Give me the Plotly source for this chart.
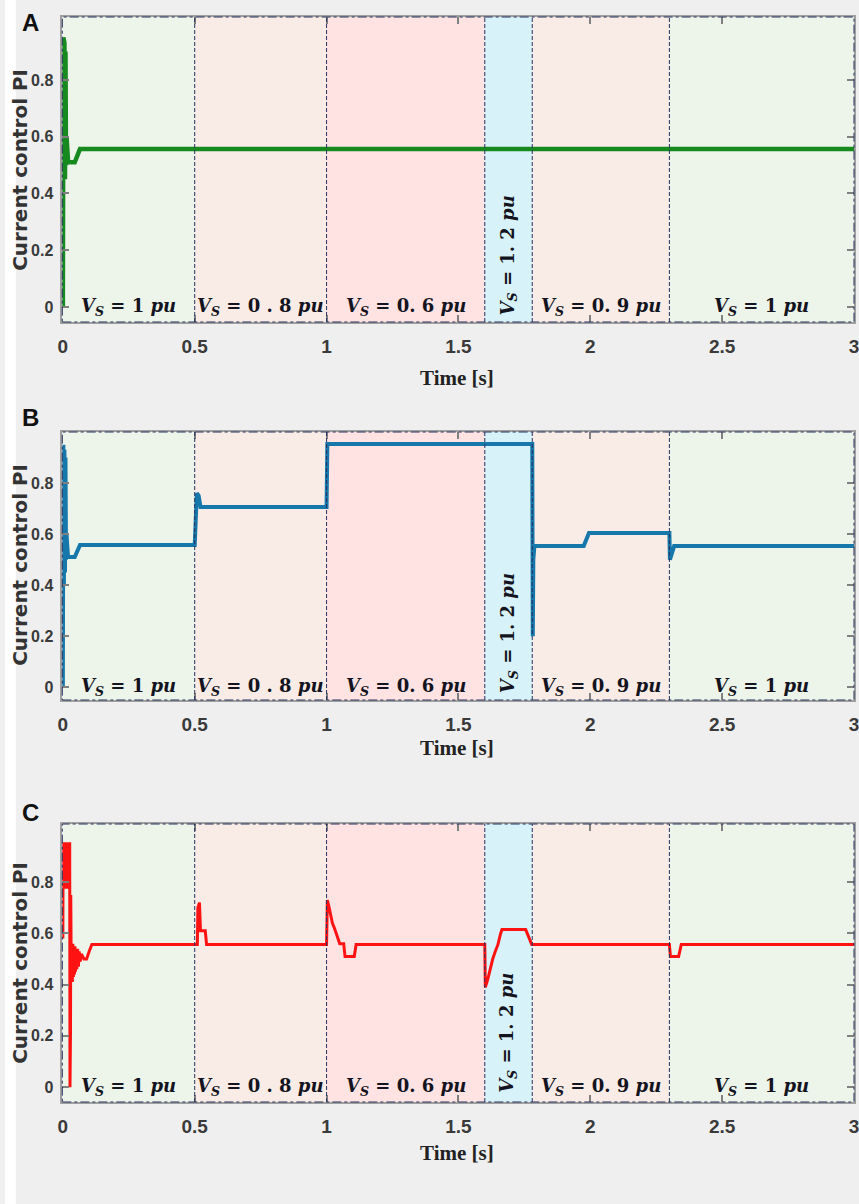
import plotly.graph_objects as go

W, H = 859, 1204

# ---------------- data ----------------
TIME_A = [0, 0.002, 0.004, 0.006, 0.008, 0.010, 0.012, 0.014, 0.017, 0.020, 0.045, 0.055, 0.065, 3.0]
PI_A = [0, 0.95, 0.40, 0.93, 0.45, 0.90, 0.50, 0.60, 0.55, 0.51, 0.51, 0.53, 0.557, 0.557]

TIME_B = [0, 0.002, 0.004, 0.006, 0.008, 0.010, 0.012, 0.014, 0.017, 0.020, 0.045, 0.055, 0.065,
          0.500, 0.503, 0.508, 0.515, 0.522, 1.000, 1.003, 1.780, 1.782, 1.784, 1.788,
          1.975, 1.995, 2.300, 2.302, 2.308, 2.318, 3.0]
PI_B = [0, 0.95, 0.40, 0.93, 0.45, 0.90, 0.50, 0.60, 0.55, 0.51, 0.51, 0.53, 0.557,
        0.557, 0.70, 0.76, 0.75, 0.706, 0.706, 0.953, 0.953, 0.20, 0.50, 0.553,
        0.553, 0.604, 0.604, 0.50, 0.52, 0.553, 0.553]

TIME_C = [0, 0.001, 0.005, 0.006, 0.009, 0.010, 0.014, 0.015, 0.019, 0.020, 0.026, 0.027, 0.029, 0.030,
          0.032, 0.034, 0.036, 0.038, 0.040, 0.042, 0.044, 0.046, 0.048, 0.050, 0.053, 0.056, 0.059,
          0.062, 0.066, 0.070, 0.080, 0.090, 0.100, 0.110,
          0.510, 0.512, 0.518, 0.522, 0.540, 0.545,
          1.000, 1.003, 1.010, 1.016, 1.022, 1.030, 1.040, 1.050, 1.065, 1.070, 1.105, 1.112,
          1.600, 1.602, 1.611, 1.622, 1.630, 1.640, 1.650, 1.660, 1.665, 1.755, 1.778,
          2.300, 2.304, 2.335, 2.345, 3.0]
PI_C = [0.58, 0.95, 0.95, 0.78, 0.78, 0.95, 0.95, 0.78, 0.78, 0.95, 0.95, 0.0, 0.22, 0.75,
        0.42, 0.55, 0.41, 0.56, 0.43, 0.55, 0.44, 0.55, 0.45, 0.54, 0.46, 0.54, 0.47,
        0.53, 0.49, 0.52, 0.50, 0.50, 0.53, 0.557,
        0.557, 0.70, 0.72, 0.61, 0.61, 0.557,
        0.557, 0.73, 0.70, 0.67, 0.64, 0.62, 0.585, 0.56, 0.56, 0.51, 0.51, 0.557,
        0.557, 0.39, 0.42, 0.47, 0.50, 0.53, 0.557, 0.60, 0.615, 0.615, 0.557,
        0.557, 0.51, 0.51, 0.557, 0.557]

REGION_START = [0.0, 0.5, 1.0, 1.6, 1.78, 2.3]
REGION_END = [0.5, 1.0, 1.6, 1.78, 2.3, 3.01]
REGION_LABEL = ["1", "0 . 8", "0. 6", "1. 2", "0. 9", "1"]
REGION_COLOR = ["#edf4ea", "#f9ece7", "#ffe3e3", "#d8f2f9", "#f9ece7", "#edf4ea"]

X_TICKS = [0, 0.5, 1, 1.5, 2, 2.5, 3]
X_TICK_TEXT = ["0", "0.5", "1", "1.5", "2", "2.5", "3"]
Y_TICKS = [0, 0.2, 0.4, 0.6, 0.8]
Y_TICK_TEXT = ["0", "0.2", "0.4", "0.6", "0.8"]

PANELS = ["A", "B", "C"]
SERIES = [(TIME_A, PI_A), (TIME_B, PI_B), (TIME_C, PI_C)]
LINE_COLORS = ["#178a1f", "#1677aa", "#ff1212"]
LINE_WIDTHS = [4.5, 4, 3]

# ---------------- layout geometry (pixels) ----------------
PLOT_LEFT, PLOT_RIGHT = 58, 859
PANEL_TOP = [17, 432, 824]
PANEL_BOTTOM = [322, 700, 1102]
Y_RANGES = [[-0.053, 1.022], [-0.05, 1.0], [-0.058, 1.027]]
TIME_LABEL_Y = [378, 748, 1153]
YTITLE_Y = [170, 565, 963]
LETTER_Y = [23, 417, 812]
ROT_LABEL_Y = [0.18, 0.21, 0.21]

fig = go.Figure()

navy = "#26325e"
xtickfont = dict(family="Liberation Sans, Arial, sans-serif", size=19, color="#3a3a3a", weight="bold")
ytickfont = dict(family="Liberation Sans, Arial, sans-serif", size=16, color="#3a3a3a", weight="bold")
label_font = dict(family="DejaVu Serif, Liberation Serif, serif", size=18, color="#141420")

shapes = []
annotations = []

# left white strip
shapes.append(dict(type="rect", xref="paper", yref="paper", x0=0, x1=11 / W, y0=0, y1=1,
                   fillcolor="white", line=dict(width=0), layer="below"))

for i, (t, v) in enumerate(SERIES):
    sfx = "" if i == 0 else str(i + 1)
    xa, ya = "x" + sfx, "y" + sfx
    fig.add_trace(go.Scatter(x=t, y=v, mode="lines", xaxis=xa, yaxis=ya,
                             line=dict(color=LINE_COLORS[i], width=LINE_WIDTHS[i]),
                             showlegend=False, hoverinfo="skip"))
    dom_y = [1 - PANEL_BOTTOM[i] / H, 1 - PANEL_TOP[i] / H]
    axx = dict(domain=[PLOT_LEFT / W, PLOT_RIGHT / W], range=[-0.002, 3.0], anchor=ya,
               tickvals=X_TICKS, ticktext=X_TICK_TEXT, ticks="inside", ticklen=7,
               tickcolor="#808080", tickwidth=1.5, showline=True, linecolor="#a0a0a0",
               linewidth=1.5, mirror="ticks", showgrid=False, zeroline=False,
               tickfont=xtickfont, ticklabelstandoff=6, ticklabeloverflow="allow")
    axy = dict(domain=dom_y, range=Y_RANGES[i], anchor=xa,
               tickvals=Y_TICKS, ticktext=Y_TICK_TEXT, ticks="inside", ticklen=7,
               tickcolor="#808080", tickwidth=1.5, showline=True, linecolor="#a0a0a0",
               linewidth=1.5, mirror="ticks", showgrid=False, zeroline=False,
               tickfont=ytickfont, ticklabelstandoff=4)
    fig.update_layout(**{"xaxis" + sfx: axx, "yaxis" + sfx: axy})

    # region backgrounds
    for s, e, c in zip(REGION_START, REGION_END, REGION_COLOR):
        shapes.append(dict(type="rect", xref=xa, yref=ya + " domain", x0=s, x1=e, y0=0, y1=1,
                           fillcolor=c, line=dict(width=0), layer="below"))
    # dividers
    for s in REGION_START[1:]:
        shapes.append(dict(type="line", xref=xa, yref=ya + " domain", x0=s, x1=s, y0=0, y1=1,
                           line=dict(color=navy, width=1, dash="4px,2px"), layer="above"))
    # frame
    shapes.append(dict(type="rect", xref=xa + " domain", yref=ya + " domain", x0=0, x1=1, y0=0, y1=1,
                       line=dict(color=navy, width=1, dash="dashdot"), layer="above"))

    # region labels
    for s, e, lab in zip(REGION_START, REGION_END, REGION_LABEL):
        txt = "<b><i>V</i><sub><i>S</i></sub> = " + lab + " <i>pu</i></b>"
        if lab == "1. 2":
            annotations.append(dict(x=(s + e) / 2, y=ROT_LABEL_Y[i], xref=xa, yref=ya, text=txt,
                                    textangle=-90, showarrow=False, xanchor="center",
                                    yanchor="middle", font=label_font))
        else:
            annotations.append(dict(x=(s + min(e, 3.0)) / 2, y=0.0, xref=xa, yref=ya, text=txt,
                                    showarrow=False, xanchor="center", yanchor="middle",
                                    font=label_font))

    # axis titles
    annotations.append(dict(x=457 / W, y=1 - TIME_LABEL_Y[i] / H, xref="paper", yref="paper",
                            text="<b>Time [s]</b>", showarrow=False,
                            xanchor="center", yanchor="middle",
                            font=dict(family="Liberation Serif, Times New Roman, serif",
                                      size=21, color="#222222")))
    annotations.append(dict(x=15 / W, y=1 - YTITLE_Y[i] / H, xref="paper", yref="paper",
                            text="<b>Current control PI</b>", textangle=-90, showarrow=False,
                            xanchor="center", yanchor="middle",
                            font=dict(family="DejaVu Sans, Arial, sans-serif", size=20,
                                      color="#333333")))
    annotations.append(dict(x=26 / W, y=1 - LETTER_Y[i] / H, xref="paper", yref="paper",
                            text="<b>" + PANELS[i] + "</b>", showarrow=False,
                            xanchor="center", yanchor="middle",
                            font=dict(family="Liberation Sans, Arial, sans-serif", size=24,
                                      color="#111111")))

fig.update_layout(width=W, height=H, margin=dict(l=0, r=0, t=0, b=0),
                  paper_bgcolor="#efefef", plot_bgcolor="#efefef",
                  shapes=shapes, annotations=annotations, showlegend=False)

fig.write_html("out.html")
